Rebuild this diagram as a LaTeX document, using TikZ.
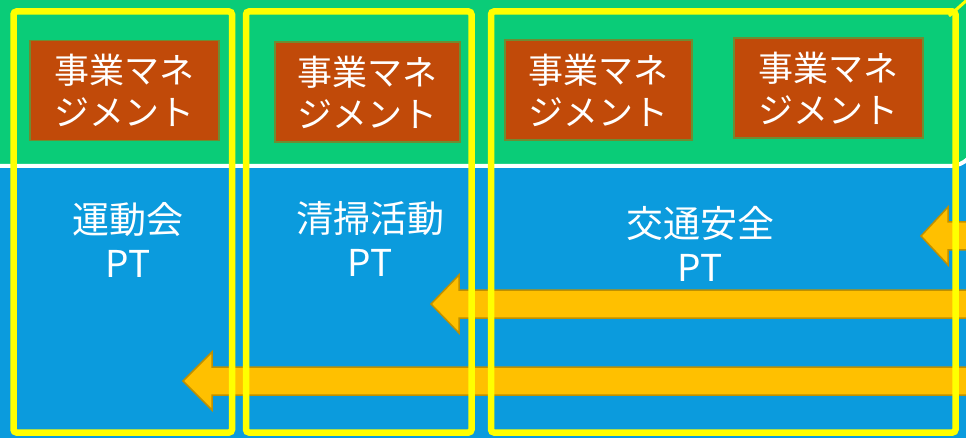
\documentclass[tikz,border=0pt]{standalone}
\usepackage{fontspec}
\newfontfamily\jp{Noto Sans CJK JP}
\definecolor{bgblue}{RGB}{11,155,221}
\definecolor{bggreen}{RGB}{10,204,120}
\definecolor{boxfill}{RGB}{193,74,9}
\definecolor{boxline}{RGB}{110,140,50}
\definecolor{arrfill}{RGB}{255,192,0}
\definecolor{arrline}{RGB}{191,144,0}
\definecolor{frameyel}{RGB}{255,255,0}
\tikzset{
  mgmt/.style={draw=boxline, line width=1.5pt, fill=boxfill, text=white, inner sep=0pt,
    minimum width=#1, minimum height=100pt, align=center,
    font=\jp\fontsize{35}{42}\selectfont},
  mgmt/.default=187pt,
  ptlabel/.style={text=white, align=center, inner sep=0pt, font=\jp\fontsize{37}{44}\selectfont},
  frame/.style={draw=frameyel, line width=6.5pt, rounded corners=3pt},
  blockarrow/.style={fill=arrfill, draw=arrline, line width=1.5pt, line join=miter},
}
\begin{document}
\begin{tikzpicture}[x=1pt,y=-1pt]
\useasboundingbox (0,0) rectangle (966,438);
\clip (0,0) rectangle (966,438);
% background
\fill[bgblue] (-10,-10) rectangle (976,448);
\draw[white, line width=4pt, fill=bggreen, rounded corners=26pt] (-40,-40) -- (976,-40) -- (976,166) -- (-40,166) -- cycle;
% block arrows
\draw[blockarrow] (980,290) -- (459,290) -- (459,275) -- (431,304) -- (459,333) -- (459,318) -- (980,318);
\draw[blockarrow] (980,367) -- (212,367) -- (212,352) -- (183,381) -- (212,410) -- (212,395) -- (980,395);
\draw[blockarrow] (980,222) -- (948,222) -- (948,207) -- (921,236) -- (948,265) -- (948,250) -- (980,250);
% management boxes
\node[mgmt=189pt] (m1) at (124.5,90.5) {事業マネ\\ジメント};
\node[mgmt=185pt] (m2) at (367.5,92) {事業マネ\\ジメント};
\node[mgmt=187pt] (m3) at (598.5,90) {事業マネ\\ジメント};
\node[mgmt=189pt] (m4) at (828.5,88) {事業マネ\\ジメント};
% project team labels
\node[ptlabel] (p1) at (128,240) {運動会\\PT};
\node[ptlabel] (p2) at (370,239) {清掃活動\\PT};
\node[ptlabel] (p3) at (700,244) {交通安全\\PT};
% yellow frames
\draw[frame] (13.5,11.5) rectangle (232,432.5);
\draw[frame] (246,11.5) rectangle (471.5,432.5);
\draw[frame] (491,11.5) rectangle (955.5,432.5);
\coordinate (tick) at (967,0);
\draw[frameyel, line width=3pt] (949,16) -- (tick);
\end{tikzpicture}
\end{document}
